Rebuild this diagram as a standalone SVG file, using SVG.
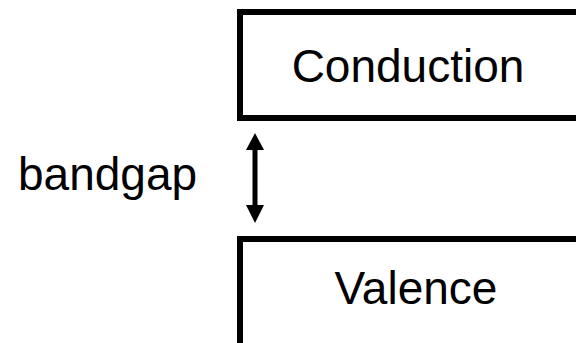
<svg xmlns="http://www.w3.org/2000/svg" width="576" height="343" viewBox="0 0 576 343">
  <style>
    .band { fill: #ffffff; stroke: #000000; stroke-width: 6; }
    .label { font-family: "Liberation Sans", Arial, sans-serif; font-size: 46px; fill: #000000; }
    .shaft { stroke: #000000; stroke-width: 5; fill: none; }
    .head { fill: #000000; }
  </style>
  <rect width="576" height="343" fill="#ffffff"/>

  <!-- conduction band (runs off the right edge) -->
  <g id="conduction">
    <rect class="band" x="240" y="12" width="350" height="106"/>
    <text class="label" x="408" y="82" text-anchor="middle">Conduction</text>
  </g>

  <!-- valence band (runs off the right and bottom edges) -->
  <g id="valence">
    <rect class="band" x="240" y="239" width="350" height="120"/>
    <text class="label" x="416" y="304" text-anchor="middle">Valence</text>
  </g>

  <g id="bandgap-label">
    <text class="label" x="18" y="190">bandgap</text>
  </g>

  <!-- double-headed arrow spanning the gap -->
  <g id="connectors">
    <line class="shaft" x1="255" y1="148" x2="255" y2="207"/>
    <polygon class="head" points="255,133 264,150 246,150"/>
    <polygon class="head" points="255,223 264,205 246,205"/>
  </g>
</svg>
